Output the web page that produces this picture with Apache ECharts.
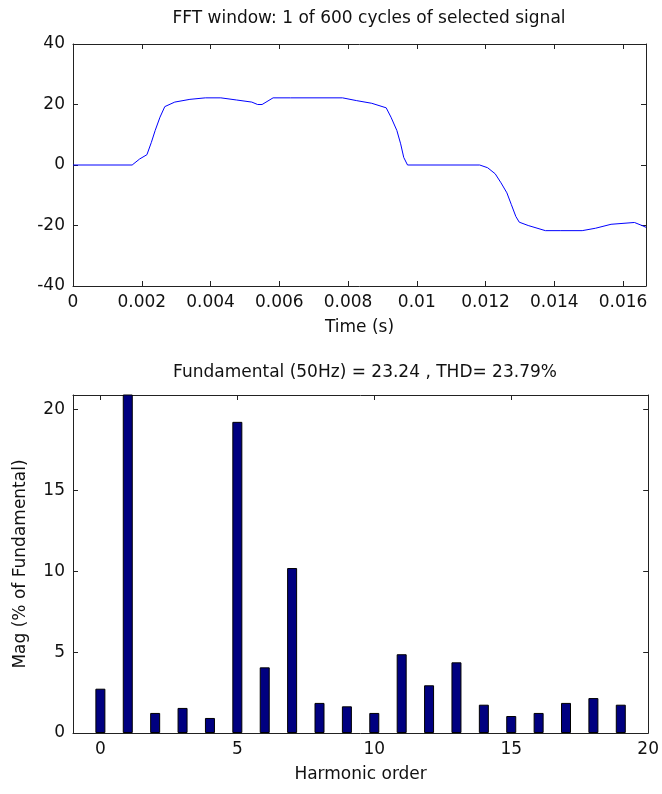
<!DOCTYPE html>
<html>
<head>
<meta charset="utf-8">
<script src="https://cdn.jsdelivr.net/npm/echarts@6/dist/echarts.min.js"></script>
<style>
  html, body { margin: 0; padding: 0; background: #fff; }
  #main { width: 662px; height: 794px; }
</style>
</head>
<body>
<div id="main"></div>
<script>
// time signal (one cycle)
const timeS = [0, 0.00172, 0.00194, 0.00215, 0.00228, 0.00239, 0.00253, 0.00267, 0.00296, 0.0034,
  0.00385, 0.0043, 0.00475, 0.0052, 0.00537, 0.0055, 0.00582, 0.00633, 0.00784, 0.00824,
  0.00869, 0.00911, 0.00925, 0.00942, 0.00953, 0.00962, 0.00973, 0.01183, 0.01206, 0.01228,
  0.01245, 0.01262, 0.01275, 0.01288, 0.01298, 0.01324, 0.01374, 0.01419, 0.01481, 0.0152,
  0.01565, 0.01633, 0.01655, 0.016667];
const signal = [0, 0, 2.0, 3.4, 7.5, 11.4, 15.8, 19.3, 20.8, 21.7,
  22.2, 22.2, 21.5, 20.8, 20.0, 20.0, 22.2, 22.2, 22.2, 21.3,
  20.4, 18.9, 15.8, 11.4, 7.0, 2.5, 0, 0, -0.9, -2.9,
  -5.9, -9.2, -13.1, -17.0, -18.9, -20.0, -21.7, -21.7, -21.7, -20.9,
  -19.6, -19.0, -20.0, -20.6];

// harmonic spectrum (% of fundamental)
const harmonics = [0, 1, 2, 3, 4, 5, 6, 7, 8, 9, 10, 11, 12, 13, 14, 15, 16, 17, 18, 19];
const magnitude = [2.74, 100, 1.24, 1.55, 0.93, 19.24, 4.06, 10.2, 1.86, 1.65,
  1.24, 4.87, 2.95, 4.37, 1.75, 1.05, 1.24, 1.86, 2.16, 1.75];

const timeTicks = [0, 0.002, 0.004, 0.006, 0.008, 0.01, 0.012, 0.014, 0.016];
const sigTicks = [-40, -20, 0, 20, 40];
const harmTicks = [0, 5, 10, 15, 20];
const magTicks = [0, 5, 10, 15, 20];

const txt = { color: '#111', fontFamily: 'DejaVu Sans', fontSize: 17 };

// one axis of a boxed plot; the mirrored ones only carry ticks
function boxAxis(grid, min, max, pos, ticks, extra) {
  return Object.assign({
    type: 'value',
    gridIndex: grid,
    min: min,
    max: max,
    position: pos,
    axisLine: { show: true, onZero: false, lineStyle: { color: '#222', width: 1 } },
    axisTick: { show: true, inside: true, length: 5, customValues: ticks, lineStyle: { color: '#222' } },
    splitLine: { show: false },
    axisLabel: Object.assign({ margin: 8, customValues: ticks }, txt)
  }, extra);
}
const noLabel = { axisLabel: { show: false } };

const chart = echarts.init(document.getElementById('main'));

chart.setOption({
  animation: false,
  backgroundColor: '#fff',
  title: [
    { text: 'FFT window: 1 of 600 cycles of selected signal', left: 364, top: 5, textAlign: 'center',
      textStyle: Object.assign({}, txt, { fontWeight: 'normal' }) },
    { text: 'Fundamental (50Hz) = 23.24 , THD= 23.79%', left: 360, top: 359, textAlign: 'center',
      textStyle: Object.assign({}, txt, { fontWeight: 'normal' }) }
  ],
  grid: [
    { left: 73, top: 44, width: 573, height: 242 },
    { left: 73, top: 395, width: 580, height: 338 }
  ],
  xAxis: [
    boxAxis(0, 0, 1 / 60, 'bottom', timeTicks, {
      name: 'Time (s)', nameLocation: 'middle', nameGap: 33, nameTextStyle: txt,
      axisLabel: Object.assign({ margin: 8, customValues: timeTicks, formatter: v => String(+v.toFixed(3)) }, txt) }),
    boxAxis(0, 0, 1 / 60, 'top', timeTicks, noLabel),
    boxAxis(1, -1, 20, 'bottom', harmTicks, {
      name: 'Harmonic order', nameLocation: 'middle', nameGap: 33, nameTextStyle: txt }),
    boxAxis(1, -1, 20, 'top', harmTicks, noLabel)
  ],
  yAxis: [
    boxAxis(0, -40, 40, 'left', sigTicks, {}),
    boxAxis(0, -40, 40, 'right', sigTicks, noLabel),
    boxAxis(1, 0, 20.9, 'left', magTicks, {
      name: 'Mag (% of Fundamental)', nameLocation: 'middle', nameGap: 44, nameTextStyle: txt }),
    boxAxis(1, 0, 20.9, 'right', magTicks, noLabel)
  ],
  series: [
    {
      type: 'line',
      xAxisIndex: 0,
      yAxisIndex: 0,
      showSymbol: false,
      data: timeS.map((t, i) => [t, signal[i]]),
      lineStyle: { color: '#0000ff', width: 1 },
      itemStyle: { color: '#0000ff' }
    },
    {
      type: 'bar',
      xAxisIndex: 2,
      yAxisIndex: 2,
      barWidth: 10,
      clip: true,
      data: harmonics.map((h, i) => [h, magnitude[i]]),
      itemStyle: { color: '#000080', borderColor: '#000', borderWidth: 1 }
    }
  ]
});
</script>
</body>
</html>
